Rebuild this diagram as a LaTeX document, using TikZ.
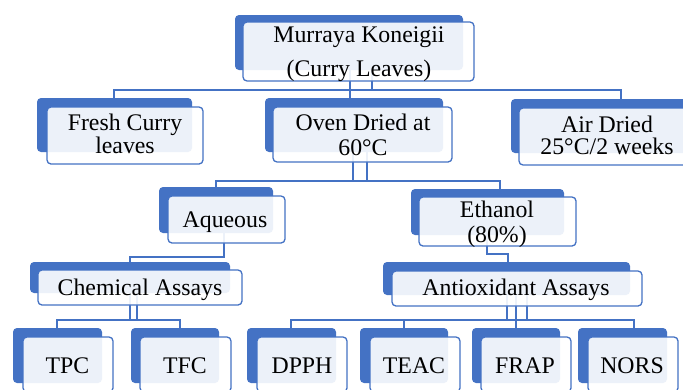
\documentclass[tikz,border=0pt]{standalone}
\usepackage{fontspec}
\setmainfont{Liberation Serif}
\definecolor{sablue}{HTML}{4472C4}
\newcommand\smabox[9]{%
  \fill[sablue, rounded corners=4pt] (#2,#3) rectangle (#4,#5);
  \draw[frontbox] (#6,#7) rectangle (#8,#9);
  \coordinate (#1) at ({(#2+#4)/2},{(#3+#5)/2});
}
\begin{document}
\begin{tikzpicture}[x=1pt,y=-1pt,
  frontbox/.style={draw=sablue, line width=1.3pt, fill=white, fill opacity=0.9, rounded corners=4pt},
  conn/.style={draw=sablue, line width=1.3pt},
  lbl/.style={anchor=base, inner sep=0pt, text=black, font=\fontsize{23.8}{26}\selectfont}]
\useasboundingbox (0,0) rectangle (683,389);
\clip (0,0) rectangle (683,389);
\fill[white] (0,0) rectangle (683,389);
% connectors level 1 -> 2
\coordinate (c1a) at (350,45);
\coordinate (c1b) at (372,45);
\draw[conn] (c1a) -- (350,98);
\draw[conn] (c1b) -- (372,90);
\draw[conn] (114,98) -- (114,90) -- (621,90) -- (621,99);
% level 2 -> 3
\draw[conn] (353,125) -- (353,181);
\draw[conn] (367,125) -- (367,181);
\draw[conn] (216,187) -- (216,181) -- (500,181) -- (500,189);
% level 3 -> 4
\draw[conn] (224,215) -- (224,257) -- (130,257) -- (130,262);
\draw[conn] (487,215) -- (487,254) -- (508,254) -- (508,262);
% level 4 -> 5
\draw[conn] (130,280) -- (130,320);
\draw[conn] (137,280) -- (137,320);
\draw[conn] (57,328) -- (57,320) -- (180,320) -- (180,328);
\draw[conn] (507,280) -- (507,320);
\draw[conn] (516,280) -- (516,328);
\draw[conn] (527,280) -- (527,320);
\draw[conn] (291,328) -- (291,320) -- (634,320) -- (634,328);
\draw[conn] (404,320) -- (404,328);
% boxes
\smabox{topB}{235}{15}{463}{70}{243}{22}{474}{81}
\smabox{freshB}{37}{98}{192}{152}{47}{107}{203}{164}
\smabox{ovenB}{265}{98}{443}{152}{273}{107}{452}{162}
\smabox{airB}{511}{99}{695}{153}{519}{108}{705}{165}
\smabox{aquB}{159}{187}{273}{233}{168}{196}{285}{243}
\smabox{ethB}{411}{189}{564}{235}{419}{197}{576}{246}
\smabox{chemB}{30}{262}{230}{293}{38}{270}{242}{305}
\smabox{antiB}{383}{262}{630}{295}{392}{271}{642}{306}
\smabox{tpcB}{13}{328}{102}{383}{23}{337}{113}{392}
\smabox{tfcB}{131}{328}{219}{383}{140}{337}{231}{392}
\smabox{dpphB}{247}{328}{336}{383}{257}{337}{347}{392}
\smabox{teacB}{360}{328}{448}{383}{370}{337}{460}{392}
\smabox{frapB}{472}{328}{560}{383}{481}{337}{571}{392}
\smabox{norsB}{578}{328}{667}{383}{588}{337}{678}{392}
% labels
\node[lbl] (t1) at (359,42) {Murraya Koneigii};
\node[lbl] (t2) at (359,76) {(Curry Leaves)};
\node[lbl] (f1) at (125,130) {Fresh Curry};
\node[lbl] (f2) at (125,153) {leaves};
\node[lbl] (o1) at (363,130) {Oven Dried at};
\node[lbl] (o2) at (363,155) {60°C};
\node[lbl] (a1) at (607,132) {Air Dried};
\node[lbl] (a2) at (607,154) {25°C/2 weeks};
\node[lbl] (aq) at (225,227) {Aqueous};
\node[lbl] (e1) at (497,217) {Ethanol};
\node[lbl] (e2) at (497,242) {(80\%)};
\node[lbl] (ch) at (140,295) {Chemical Assays};
\node[lbl] (an) at (516,295) {Antioxidant Assays};
\node[lbl] (tpc) at (67.5,373) {TPC};
\node[lbl] (tfc) at (185,373) {TFC};
\node[lbl] (dpph) at (302,373) {DPPH};
\node[lbl] (teac) at (414,373) {TEAC};
\node[lbl] (frap) at (525,373) {FRAP};
\node[lbl] (nors) at (632,373) {NORS};
\end{tikzpicture}
\end{document}
